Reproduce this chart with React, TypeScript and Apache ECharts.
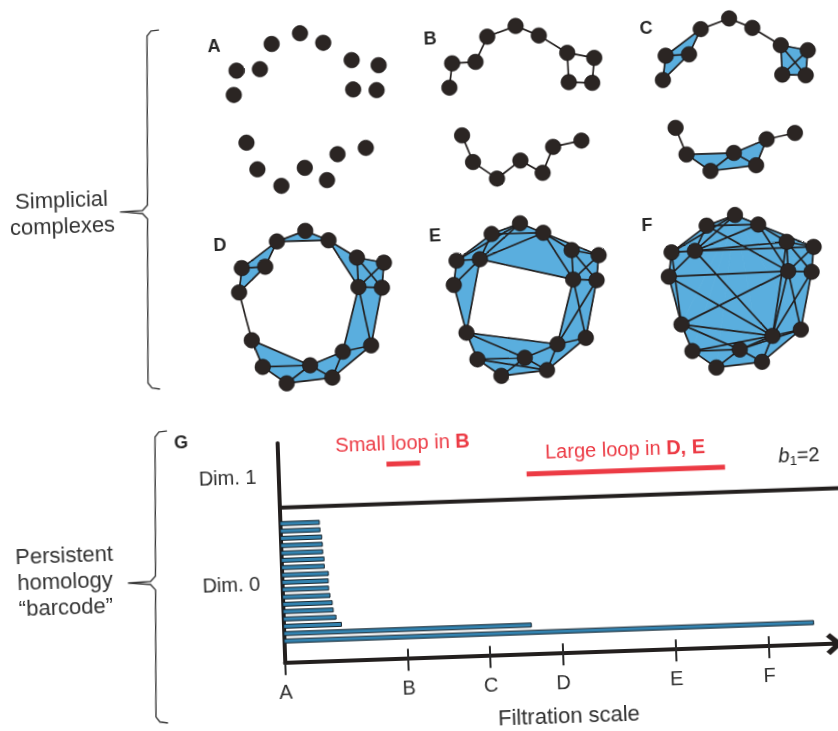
import React, { useEffect, useRef } from "react";
import * as echarts from "echarts";

// ---------------- DATA ----------------
// One point cloud, shared by every complex A–F (units ≈ px, y grows downward)
const pointX = [0, 3.6, 27, 39.6, 68.3, 91.2, 119, 145.8, 119.5, 142.9, 11, 21, 44.4, 68.4, 90.2, 101.6, 130.1];
const pointY = [62, 37.8, 37.2, 12.4, 2.7, 13, 31.3, 37.3, 60.7, 62.2, 110.2, 137.2, 154.5, 137.3, 150.4, 124.8, 119.5];

const panelLetters = ["A", "B", "C", "D", "E", "F"];

// 1-simplices (edges) as point-index pairs
const chainEdges = [[0, 1], [1, 2], [2, 3], [3, 4], [4, 5], [5, 6], [6, 7], [7, 9], [8, 9], [6, 8], [10, 11], [11, 12], [12, 13], [13, 14], [14, 15], [15, 16]];
const extraEdgesC = [[0, 2], [1, 3], [6, 9], [7, 8], [11, 13], [12, 14], [13, 15]];
const extraEdgesD = [[0, 2], [1, 3], [3, 5], [5, 8], [6, 9], [7, 8], [0, 10], [8, 15], [8, 16], [9, 16], [10, 13], [11, 13], [12, 14], [13, 15], [14, 16]];
const extraEdgesE = [[0, 2], [1, 3], [1, 4], [2, 4], [3, 5], [2, 5], [2, 8], [5, 8], [5, 7], [6, 9], [7, 8], [0, 10], [2, 10], [8, 15], [8, 16], [9, 16], [9, 15], [10, 13], [10, 15], [11, 13], [11, 14], [12, 14], [13, 15], [14, 16]];
const extraEdgesF = [[0, 2], [1, 3], [1, 4], [2, 4], [2, 5], [3, 5], [2, 6], [2, 7], [3, 8], [5, 7], [5, 8], [6, 9], [7, 8], [6, 15], [0, 8], [2, 15], [0, 15], [8, 10], [0, 10], [1, 10], [10, 13], [10, 15], [11, 13], [11, 15], [12, 14], [13, 15], [13, 16], [14, 16], [8, 15], [8, 16], [9, 16], [9, 15]];

// 2-simplices (filled triangles) as point-index triples
const trianglesC = [[0, 1, 2], [1, 2, 3], [6, 7, 9], [6, 8, 9], [6, 7, 8], [7, 8, 9], [11, 12, 13], [12, 13, 14], [13, 14, 15]];
const trianglesD = [[3, 4, 5], [1, 2, 3], [0, 1, 2], [5, 6, 8], [6, 7, 9], [6, 8, 9], [6, 7, 8], [7, 8, 9], [8, 9, 16], [8, 15, 16], [10, 11, 13], [11, 12, 13], [12, 13, 14], [13, 14, 15], [14, 15, 16], [13, 15, 16]];
const trianglesE = [[0, 1, 2], [1, 2, 3], [2, 3, 4], [3, 4, 5], [2, 4, 5], [2, 5, 8], [5, 6, 8], [5, 6, 7], [6, 7, 9], [6, 8, 9], [7, 8, 9], [0, 2, 10], [8, 9, 16], [8, 15, 16], [9, 15, 16], [10, 13, 15], [10, 11, 13], [11, 12, 13], [12, 13, 14], [13, 14, 15], [14, 15, 16], [11, 12, 14]];
const trianglesF = [[4, 5, 7], [4, 7, 9], [4, 9, 16], [4, 16, 14], [4, 14, 12], [4, 12, 11], [4, 11, 10], [4, 10, 0], [4, 0, 1], [4, 1, 3]];

const panelEdges = [[], chainEdges, [...chainEdges, ...extraEdgesC], [...chainEdges, ...extraEdgesD], [...chainEdges, ...extraEdgesE], [...chainEdges, ...extraEdgesF]];
const panelTriangles = [[], [], trianglesC, trianglesD, trianglesE, trianglesF];

// Barcode
const filtrationTickLabels = ["A", "B", "C", "D", "E", "F"];
const filtrationTickValues = [0, 22.4, 37.3, 50.5, 71.1, 88];
const dim0Deaths = [7.13, 7.2, 7.47, 7.53, 7.55, 7.75, 7.75, 8.44, 8.38, 8.4, 8.6, 8.96, 9.1, 9.55, 10.5, 45.0, 96.3];
const dim1Births = [19.7, 45.1];
const dim1Deaths = [25.8, 81.2];
const dim1Names = ["Small loop in ", "Large loop in "];
const dim1Where = ["B", "D, E"];
const dimLabels = ["Dim. 0", "Dim. 1"];

// ---------------- LAYOUT ----------------
const W = 838;
const H = 731;
const TILT_DEG = 2;
const TILT = (TILT_DEG * Math.PI) / 180;
const CX = W / 2;
const CY = H / 2;
function unrot(x: number, y: number): [number, number] {
  const dx = x - CX;
  const dy = y - CY;
  return [CX + dx * Math.cos(TILT) - dy * Math.sin(TILT), CY + dx * Math.sin(TILT) + dy * Math.cos(TILT)];
}
const FONT = "'Liberation Sans', Arial, Helvetica, sans-serif";
const INK = "#231f1e";
const BLUE = "#5aaede";
const RED = "#ec3a44";
const TEXT = "#2e2e2e";

const PANEL_ANCHORS: [number, number][] = [[300, 33.3], [515.6, 26], [729.1, 18.4], [305.3, 230.8], [520, 223.3], [735, 215]];
const LETTER_POS: [number, number][] = [[214, 46], [430, 38], [646, 28], [220, 245], [435, 235], [647, 225]];
const X_MIN = -12, X_MAX = 160, Y_MIN = -12, Y_MAX = 168;

const BAR_ORIGIN: [number, number] = [285, 663];
const BAR_W = 550, BAR_H = 220, X_AXIS_MAX = 100, ROWS = 30;
const DIM0_TOP_ROW = 19;
const DIM1_ROWS = [26.6, 24.6];
const SEP_ROW = 21.2;
const SEP_END = 103;
const DIM_LABEL_ROWS = [10.9, 25.5];

function bracePoints(top: [number, number], bottom: [number, number], tipX: number, tipY: number) {
  const [xt, yt] = top;
  const [xb, yb] = bottom;
  const xAt = (y: number) => xt + ((xb - xt) * (y - yt)) / (yb - yt);
  const pts: [number, number][] = [
    [xt + 12, yt - 1], [xt + 4, yt], [xAt(yt + 5), yt + 5],
    [xAt(tipY - 7), tipY - 7], [xAt(tipY) - 5, tipY - 1.5], [tipX, tipY],
    [xAt(tipY) - 5, tipY + 1.5], [xAt(tipY + 7), tipY + 7],
    [xAt(yb - 5), yb - 5], [xb + 4, yb], [xb + 12, yb + 1],
  ];
  return pts.map((p) => unrot(p[0], p[1]));
}

function buildOption() {
  const grids: any[] = [];
  const xAxes: any[] = [];
  const yAxes: any[] = [];
  const series: any[] = [];
  const points = pointX.map((x, i) => [x, pointY[i]]);

  PANEL_ANCHORS.forEach(([ax, ay], p) => {
    const [ux, uy] = unrot(ax, ay);
    grids.push({
      left: ux - (pointX[4] - X_MIN),
      top: uy - (pointY[4] - Y_MIN),
      width: X_MAX - X_MIN,
      height: Y_MAX - Y_MIN,
      containLabel: false,
      outerBoundsMode: "none",
    });
    xAxes.push({ type: "value", gridIndex: p, min: X_MIN, max: X_MAX, show: false });
    yAxes.push({ type: "value", gridIndex: p, min: Y_MIN, max: Y_MAX, inverse: true, show: false });

    const tris = panelTriangles[p];
    if (tris.length) {
      series.push({
        type: "custom",
        xAxisIndex: p,
        yAxisIndex: p,
        z: 1,
        silent: true,
        data: tris,
        renderItem: (params: any, api: any) => {
          const t = tris[params.dataIndex];
          const pts = t.map((k: number) => api.coord([pointX[k], pointY[k]]));
          return { type: "polygon", shape: { points: pts }, style: { fill: BLUE, stroke: BLUE, lineWidth: 0.8 } };
        },
      });
    }
    const edges = panelEdges[p];
    if (edges.length) {
      series.push({
        type: "custom",
        xAxisIndex: p,
        yAxisIndex: p,
        z: 2,
        silent: true,
        data: edges,
        renderItem: (params: any, api: any) => {
          const [a, b] = edges[params.dataIndex];
          const pa = api.coord([pointX[a], pointY[a]]);
          const pb = api.coord([pointX[b], pointY[b]]);
          return { type: "line", shape: { x1: pa[0], y1: pa[1], x2: pb[0], y2: pb[1] }, style: { stroke: INK, lineWidth: 1.7 } };
        },
      });
    }
    series.push({
      type: "scatter",
      xAxisIndex: p,
      yAxisIndex: p,
      z: 3,
      silent: true,
      symbolSize: 15.5,
      itemStyle: { color: "#2b2523", borderColor: "#141010", borderWidth: 0.6, opacity: 1 },
      data: points,
    });
  });

  // Barcode grid
  const [ox, oy] = unrot(BAR_ORIGIN[0], BAR_ORIGIN[1]);
  const g = grids.length;
  grids.push({ left: ox, top: oy - BAR_H, width: BAR_W, height: BAR_H, containLabel: false, outerBoundsMode: "none" });
  const tickFmt = (v: number) => {
    const i = filtrationTickValues.findIndex((t) => Math.abs(t - v) < 1e-6);
    return i >= 0 ? filtrationTickLabels[i] : "";
  };
  xAxes.push({
    type: "value",
    gridIndex: g,
    min: 0,
    max: X_AXIS_MAX,
    position: "bottom",
    name: "Filtration scale",
    nameLocation: "middle",
    nameGap: 51,
    nameTextStyle: { fontSize: 22, color: TEXT, fontFamily: FONT, padding: [0, 0, 0, 14] },
    axisLine: {
      show: true,
      onZero: false,
      symbol: ["none", "path://M11,0 L22,13 L18.5,17 L11,8 L3.5,17 L0,13 Z"],
      symbolSize: [22, 17],
      symbolOffset: [0, 0],
      lineStyle: { color: INK, width: 4 },
    },
    axisTick: { show: true, inside: false, length: 12, customValues: filtrationTickValues, lineStyle: { color: "#2a2a2a", width: 2 } },
    axisLabel: { show: true, customValues: filtrationTickValues, formatter: tickFmt, margin: 19, fontSize: 20, color: TEXT, fontFamily: FONT },
    splitLine: { show: false },
  });
  xAxes.push({
    type: "value",
    gridIndex: g,
    min: 0,
    max: X_AXIS_MAX,
    position: "bottom",
    axisLine: { show: false },
    axisTick: { show: true, inside: true, length: 10, customValues: filtrationTickValues.slice(1), lineStyle: { color: "#2a2a2a", width: 2 } },
    axisLabel: { show: false },
    splitLine: { show: false },
  });
  yAxes.push({
    type: "value",
    gridIndex: g,
    min: 0,
    max: ROWS,
    axisLine: { show: true, onZero: false, lineStyle: { color: INK, width: 4 } },
    axisTick: { show: false },
    splitLine: { show: false },
    axisLabel: {
      show: true,
      customValues: DIM_LABEL_ROWS,
      formatter: (v: number) => {
        const i = DIM_LABEL_ROWS.findIndex((r) => Math.abs(r - v) < 1e-6);
        return i >= 0 ? dimLabels[i] : "";
      },
      margin: 22,
      fontSize: 20,
      color: TEXT,
      fontFamily: FONT,
    },
  });

  // Dim 0 bars
  series.push({
    type: "custom",
    xAxisIndex: g,
    yAxisIndex: g,
    z: 3,
    silent: true,
    clip: false,
    data: dim0Deaths.map((d, i) => [d, DIM0_TOP_ROW - i]),
    renderItem: (params: any, api: any) => {
      const a = api.coord([0, api.value(1)]);
      const b = api.coord([api.value(0), api.value(1)]);
      return {
        type: "rect",
        shape: { x: a[0], y: a[1] - 2, width: b[0] - a[0], height: 4 },
        style: { fill: "#3383b0", stroke: "#17232c", lineWidth: 1 },
      };
    },
  });
  // Dim 1 separator line
  series.push({
    type: "custom",
    xAxisIndex: g,
    yAxisIndex: g,
    z: 3,
    silent: true,
    clip: false,
    data: [[SEP_END, SEP_ROW]],
    renderItem: (params: any, api: any) => {
      const a = api.coord([0, api.value(1)]);
      const b = api.coord([api.value(0), api.value(1)]);
      return { type: "rect", shape: { x: a[0], y: a[1] - 2, width: b[0] - a[0], height: 4 }, style: { fill: INK } };
    },
  });
  // Dim 1 loop bars (red) with labels
  series.push({
    type: "custom",
    xAxisIndex: g,
    yAxisIndex: g,
    z: 3,
    silent: true,
    clip: false,
    data: dim1Births.map((b, i) => [b, DIM1_ROWS[i], dim1Deaths[i]]),
    renderItem: (params: any, api: any) => {
      const i = params.dataIndex;
      const a = api.coord([api.value(0), api.value(1)]);
      const b = api.coord([api.value(2), api.value(1)]);
      return {
        type: "rect",
        shape: { x: a[0], y: a[1] - 2.5, width: b[0] - a[0], height: 5 },
        style: { fill: RED },
        textContent: {
          style: {
            text: dim1Names[i] + "{b|" + dim1Where[i] + "}",
            fill: RED,
            fontSize: 20,
            fontFamily: FONT,
            rich: { b: { fontWeight: "bold", fontSize: 20, fontFamily: FONT, fill: RED } },
          },
        },
        textConfig: { position: "top", distance: 9 },
      };
    },
  });

  // Graphic decorations
  const graphic: any[] = [];
  LETTER_POS.forEach((pos, i) => {
    const [x, y] = unrot(pos[0], pos[1]);
    graphic.push({
      type: "text",
      x,
      y,
      style: { text: panelLetters[i], fontSize: 18, fontWeight: "bold", fontFamily: FONT, fill: "#262626", align: "center", verticalAlign: "middle", textAlign: "center", textVerticalAlign: "middle" },
    });
  });
  {
    const [x, y] = unrot(181, 442);
    graphic.push({
      type: "text",
      x,
      y,
      style: { text: "G", fontSize: 18, fontWeight: "bold", fontFamily: FONT, fill: "#262626", align: "center", verticalAlign: "middle", textAlign: "center", textVerticalAlign: "middle" },
    });
  }
  {
    const [x, y] = unrot(62, 213);
    graphic.push({
      type: "text",
      x,
      y,
      style: { text: "Simplicial\ncomplexes", fontSize: 22, lineHeight: 26, fontFamily: FONT, fill: "#333", align: "center", verticalAlign: "middle", textAlign: "center", textVerticalAlign: "middle" },
    });
  }
  {
    const [x, y] = unrot(65, 581);
    graphic.push({
      type: "text",
      x,
      y,
      style: { text: "Persistent\nhomology\n\u201Cbarcode\u201D", fontSize: 22, lineHeight: 26, fontFamily: FONT, fill: "#333", align: "center", verticalAlign: "middle", textAlign: "center", textVerticalAlign: "middle" },
    });
  }
  {
    const [x, y] = unrot(799, 455);
    graphic.push({
      type: "text",
      x,
      y,
      style: {
        text: "{i|b}{s|1}{n|=2}",
        align: "center",
        verticalAlign: "middle",
        textAlign: "center",
        textVerticalAlign: "middle",
        rich: {
          i: { fontStyle: "italic", fontSize: 20, fontFamily: FONT, fill: "#222", lineHeight: 24 },
          s: { fontSize: 13, fontFamily: FONT, fill: "#222", lineHeight: 13, verticalAlign: "bottom" },
          n: { fontSize: 20, fontFamily: FONT, fill: "#222", lineHeight: 24 },
        },
      },
    });
  }
  graphic.push({
    type: "polyline",
    shape: { points: bracePoints([147, 31], [148, 388], 120, 212) },
    style: { stroke: "#3a3a3a", lineWidth: 1.4, fill: null },
  });
  graphic.push({
    type: "polyline",
    shape: { points: bracePoints([155, 432], [156, 722], 128, 583) },
    style: { stroke: "#3a3a3a", lineWidth: 1.4, fill: null },
  });

  return {
    animation: false,
    backgroundColor: "#ffffff",
    textStyle: { fontFamily: FONT },
    grid: grids,
    xAxis: xAxes,
    yAxis: yAxes,
    series,
    graphic,
  };
}

export default function App() {
  const ref = useRef<HTMLDivElement>(null);
  useEffect(() => {
    if (!ref.current) return;
    const chart = echarts.init(ref.current, null, { renderer: "svg" });
    chart.setOption(buildOption() as any);
    return () => chart.dispose();
  }, []);
  return (
    <div
      ref={ref}
      style={{
        position: "fixed",
        left: 0,
        top: 0,
        width: W,
        height: H,
        background: "#fff",
        transform: `rotate(-${TILT_DEG}deg)`,
        transformOrigin: `${CX}px ${CY}px`,
      }}
    />
  );
}
